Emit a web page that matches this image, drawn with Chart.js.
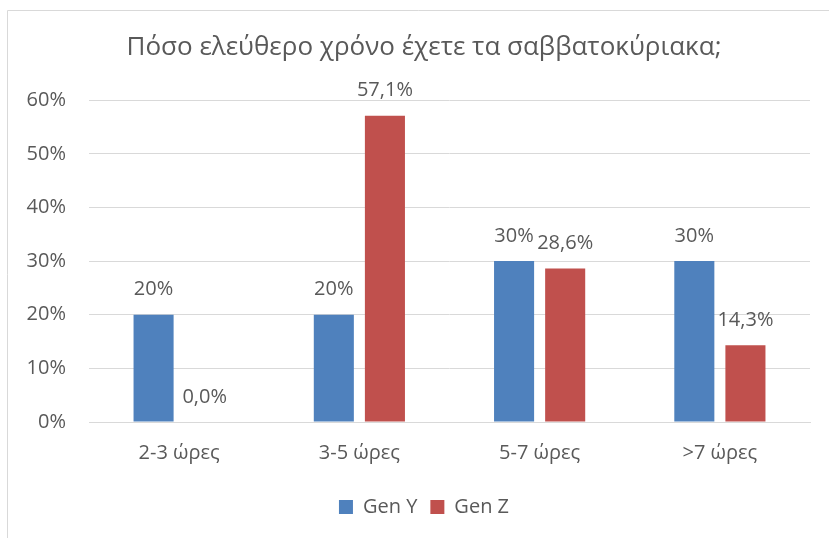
<!DOCTYPE html>
<html>
<head>
<meta charset="utf-8">
<script src="https://cdn.jsdelivr.net/npm/chart.js@4"></script>
<style>
  html, body { margin: 0; padding: 0; background: #fff; }
  #wrap { width: 829px; height: 538px; }
</style>
</head>
<body>
<div id="wrap"><canvas id="myChart" width="829" height="538"></canvas></div>
<script>
const categories = ["2-3 ώρες", "3-5 ώρες", "5-7 ώρες", ">7 ώρες"];
const genY = [20, 20, 30, 30];
const genZ = [0, 57.1, 28.6, 14.3];
const yTicks = [0, 10, 20, 30, 40, 50, 60];

const textColor = "#595959";
const fontFamily = "'Open Sans', 'Noto Sans', sans-serif";

// value labels above each bar, "57,1%" style with comma decimals
const barLabels = {
  id: "barLabels",
  afterDatasetsDraw(chart) {
    const ctx = chart.ctx;
    ctx.save();
    ctx.fillStyle = textColor;
    ctx.font = "20px " + fontFamily;
    ctx.textAlign = "center";
    ctx.textBaseline = "middle";
    chart.data.datasets.forEach(function (ds, i) {
      const meta = chart.getDatasetMeta(i);
      meta.data.forEach(function (bar, j) {
        const txt = ds.data[j].toFixed(ds.decimals).replace(".", ",") + "%";
        ctx.fillText(txt, bar.x, bar.y - 25);
      });
    });
    ctx.restore();
  },
};

// thin frame along the left and top edge
const frame = {
  id: "frame",
  beforeDraw(chart) {
    const ctx = chart.ctx;
    ctx.save();
    ctx.strokeStyle = "#d9d9d9";
    ctx.lineWidth = 1;
    ctx.beginPath();
    ctx.moveTo(7.5, chart.height);
    ctx.lineTo(7.5, 10.5);
    ctx.lineTo(chart.width, 10.5);
    ctx.stroke();
    ctx.restore();
  },
};

// title and legend are centred on the wider frame, a bit right of the canvas centre
const shiftBlocks = {
  id: "shiftBlocks",
  afterLayout(chart) {
    [chart.titleBlock, chart.legend].forEach(function (b) {
      if (b) { b.left += 19; b.right += 19; }
    });
  },
};

new Chart(document.getElementById("myChart").getContext("2d"), {
  type: "bar",
  data: {
    labels: categories,
    datasets: [
      {
        label: "Gen Y",
        data: genY,
        decimals: 0,
        backgroundColor: "#4f81bd",
      },
      {
        label: "Gen Z",
        data: genZ,
        decimals: 1,
        backgroundColor: "#c0504d",
      },
    ],
  },
  options: {
    responsive: false,
    animation: false,
    categoryPercentage: 0.567,
    barPercentage: 0.784,
    layout: { padding: { left: 0, right: 19, top: 0, bottom: 11 } },
    plugins: {
      title: {
        display: true,
        text: "Πόσο ελεύθερο χρόνο έχετε τα σαββατοκύριακα;",
        color: textColor,
        font: { family: fontFamily, size: 26, weight: "normal" },
        padding: { top: 32, bottom: 37 },
      },
      legend: {
        position: "bottom",
        labels: {
          color: textColor,
          font: { family: fontFamily, size: 20 },
          boxWidth: 14,
          boxHeight: 14,
          padding: 13,
        },
      },
      tooltip: { enabled: false },
    },
    scales: {
      x: {
        grid: { display: false, drawTicks: false },
        border: { color: "#d9d9d9" },
        ticks: { color: textColor, font: { family: fontFamily, size: 20 }, padding: 19 },
      },
      y: {
        min: 0,
        max: 60,
        afterBuildTicks(scale) {
          scale.ticks = yTicks.map(function (v) { return { value: v }; });
        },
        afterFit(scale) { scale.width = 89; },
        grid: { color: "#d9d9d9", drawTicks: false },
        border: { display: false },
        ticks: {
          color: textColor,
          font: { family: fontFamily, size: 20 },
          padding: 23,
          callback: function (v) { return v + "%"; },
        },
      },
    },
  },
  plugins: [barLabels, frame, shiftBlocks],
});
</script>
</body>
</html>
